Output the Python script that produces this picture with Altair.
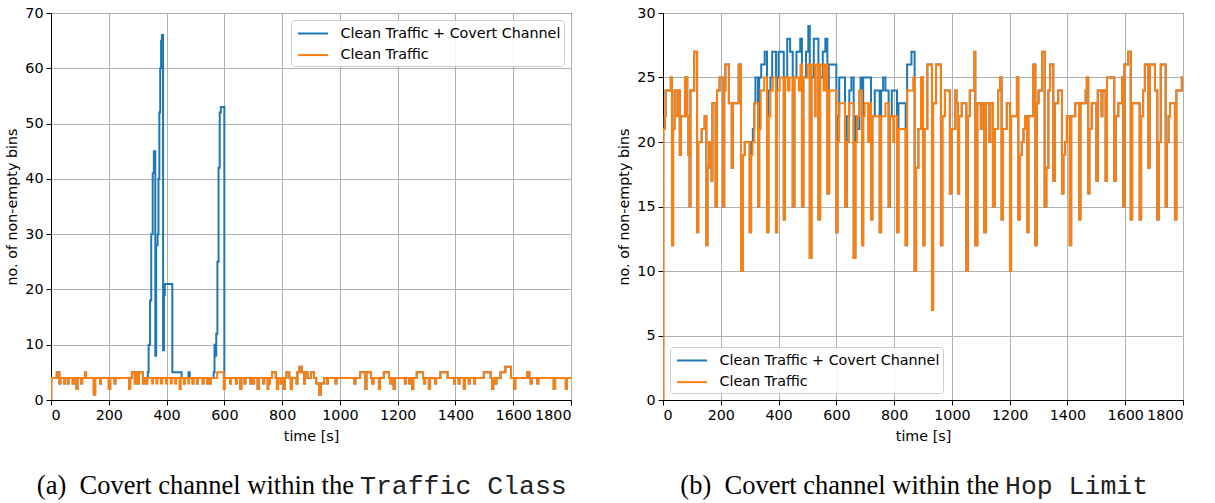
import altair as alt
import pandas as pd

SERIES = ["Clean Traffic + Covert Channel", "Clean Traffic"]
COLORS = ["#1f77b4", "#ff7f0e"]
X_TICKS = [0, 200, 400, 600, 800, 1000, 1200, 1400, 1600, 1800]
TC_Y_TICKS = [0, 10, 20, 30, 40, 50, 60, 70]
HL_Y_TICKS = [0, 5, 10, 15, 20, 25, 30]

# (a) Traffic Class: clean traffic (time [s], non-empty bins)
TC_CLEAN = [
    (0, 0), (1, 4), (20, 5), (29, 3), (33, 4), (45, 3), (48, 4), (58, 3), (61, 4), (75, 3),
    (80, 4), (88, 2), (92, 4), (105, 3), (108, 4), (118, 5), (121, 4), (148, 1), (153, 4),
    (170, 3), (173, 4), (200, 2), (205, 4), (220, 3), (223, 4), (270, 2), (274, 4), (280, 5),
    (290, 3), (293, 5), (300, 3), (304, 5), (318, 3), (322, 4), (330, 3), (333, 4), (350, 3),
    (353, 4), (365, 3), (368, 4), (380, 3), (384, 4), (398, 3), (402, 4), (415, 3), (418, 4),
    (430, 3), (433, 4), (445, 2), (449, 4), (460, 3), (463, 4), (475, 3), (478, 4), (490, 3),
    (493, 4), (505, 3), (508, 4), (525, 3), (528, 4), (540, 3), (543, 4), (550, 3), (553, 4),
    (575, 5), (598, 2), (602, 4), (620, 3), (623, 4), (640, 3), (643, 4), (655, 2), (659, 4),
    (670, 3), (673, 4), (690, 3), (693, 4), (700, 3), (703, 4), (715, 2), (719, 4), (735, 3),
    (738, 4), (750, 2), (752, 4), (755, 3), (758, 4), (765, 5), (778, 4), (782, 2), (786, 4),
    (795, 3), (798, 4), (805, 2), (809, 4), (815, 5), (825, 4), (830, 2), (834, 4), (850, 3),
    (853, 5), (860, 6), (868, 5), (876, 3), (879, 5), (888, 4), (900, 5), (910, 4), (918, 3),
    (928, 1), (934, 3), (945, 4), (955, 3), (958, 4), (985, 3), (988, 4), (1050, 3), (1054, 4),
    (1070, 5), (1088, 2), (1092, 5), (1108, 4), (1112, 3), (1116, 4), (1135, 2), (1139, 4),
    (1152, 5), (1170, 4), (1175, 3), (1179, 4), (1186, 2), (1190, 4), (1225, 3), (1228, 4),
    (1240, 3), (1243, 4), (1250, 2), (1254, 4), (1266, 5), (1288, 4), (1291, 3), (1295, 4),
    (1308, 2), (1312, 4), (1330, 3), (1333, 4), (1348, 5), (1373, 4), (1395, 3), (1398, 4),
    (1411, 3), (1414, 4), (1429, 2), (1433, 4), (1446, 3), (1449, 4), (1465, 3), (1468, 4),
    (1498, 5), (1522, 4), (1527, 2), (1531, 4), (1538, 3), (1542, 4), (1556, 5), (1573, 6),
    (1592, 4), (1603, 2), (1607, 4), (1648, 5), (1656, 4), (1660, 3), (1664, 4), (1683, 3),
    (1687, 4), (1740, 2), (1745, 4), (1782, 2), (1786, 4), (1800, 4),
]
# covert-channel bursts (replace the clean trace inside their time span)
TC_BURST_1 = [
    (335, 5), (338, 10), (343, 18), (347, 30), (352, 41), (356, 45), (361, 8), (364, 28),
    (369, 30), (372, 40), (375, 52), (378, 60), (381, 65), (384, 66), (388, 9), (391, 19),
    (394, 21), (420, 5), (452, 4),
]
TC_BURST_2 = [(473, 4), (476, 5), (480, 4)]
TC_BURST_3 = [
    (560, 4), (563, 5), (566, 10), (569, 8), (572, 12), (576, 25), (580, 42), (584, 52),
    (588, 53), (600, 4), (601, 4),
]

# (b) Hop Limit: clean traffic
HL_CLEAN = [
    (0, 0), (1, 21), (6, 22), (9, 24), (27, 25), (31, 12), (35, 21), (40, 24), (50, 22),
    (53, 24), (58, 19), (62, 22), (76, 25), (84, 22), (88, 19), (92, 15), (95, 24), (108, 27),
    (118, 13), (122, 20), (134, 21), (144, 22), (150, 12), (154, 18), (160, 20), (168, 17),
    (171, 23), (182, 15), (187, 24), (196, 25), (208, 15), (212, 24), (216, 26), (228, 23),
    (238, 18), (242, 23), (262, 26), (270, 10), (276, 19), (283, 20), (300, 13), (305, 19),
    (310, 20), (316, 23), (329, 15), (333, 21), (338, 24), (350, 25), (360, 13), (365, 22),
    (372, 24), (380, 25), (391, 13), (395, 24), (404, 25), (418, 14), (422, 25), (432, 24),
    (438, 25), (449, 15), (455, 25), (470, 24), (476, 26), (481, 15), (486, 25), (500, 26),
    (508, 11), (514, 26), (526, 22), (529, 26), (538, 14), (544, 26), (556, 24), (562, 26),
    (569, 16), (576, 24), (600, 13), (604, 20), (610, 23), (630, 15), (635, 20), (644, 23),
    (660, 11), (666, 20), (672, 22), (680, 24), (689, 12), (693, 22), (698, 23), (710, 20),
    (713, 23), (720, 14), (725, 22), (750, 13), (755, 22), (770, 23), (781, 15), (785, 22),
    (797, 20), (800, 22), (810, 13), (815, 21), (840, 12), (845, 24), (866, 25), (871, 10),
    (876, 18), (884, 21), (893, 25), (900, 12), (905, 21), (915, 26), (931, 7), (935, 23),
    (945, 26), (962, 12), (967, 22), (976, 24), (993, 16), (998, 21), (1012, 24), (1016, 23),
    (1021, 16), (1025, 22), (1034, 23), (1050, 10), (1055, 22), (1062, 24), (1078, 27),
    (1081, 12), (1088, 23), (1100, 21), (1103, 23), (1112, 13), (1118, 23), (1130, 20),
    (1133, 23), (1142, 15), (1148, 21), (1160, 24), (1167, 25), (1172, 14), (1177, 21),
    (1190, 23), (1201, 10), (1205, 22), (1225, 25), (1230, 14), (1236, 19), (1242, 20),
    (1248, 21), (1253, 22), (1260, 13), (1265, 22), (1282, 26), (1289, 12), (1294, 23),
    (1300, 24), (1312, 27), (1321, 15), (1327, 18), (1334, 24), (1340, 26), (1351, 17),
    (1356, 23), (1368, 24), (1381, 16), (1386, 19), (1392, 20), (1398, 22), (1408, 12),
    (1413, 22), (1427, 23), (1440, 14), (1445, 23), (1463, 24), (1467, 25), (1472, 16),
    (1476, 21), (1484, 23), (1500, 17), (1505, 24), (1518, 22), (1521, 24), (1532, 17),
    (1537, 25), (1562, 17), (1567, 22), (1576, 23), (1589, 25), (1593, 15), (1597, 26),
    (1610, 27), (1619, 14), (1624, 23), (1650, 14), (1655, 22), (1662, 24), (1668, 26),
    (1680, 18), (1685, 26), (1703, 24), (1711, 14), (1716, 20), (1723, 26), (1740, 15),
    (1744, 20), (1750, 22), (1755, 23), (1772, 14), (1777, 24), (1796, 25), (1800, 25),
]
HL_BURST = [
    (300, 13), (305, 20), (311, 21), (316, 23), (320, 25), (329, 15), (333, 25), (340, 26),
    (352, 27), (360, 13), (365, 24), (372, 25), (378, 27), (391, 13), (395, 25), (400, 27),
    (418, 14), (422, 25), (430, 28), (440, 27), (449, 15), (455, 25), (462, 27), (475, 28),
    (481, 15), (486, 25), (495, 27), (503, 29), (508, 11), (514, 25), (522, 28), (538, 14),
    (544, 25), (553, 27), (562, 28), (569, 16), (574, 26), (600, 13), (604, 22), (610, 25),
    (630, 15), (636, 22), (645, 24), (652, 25), (660, 11), (666, 22), (672, 21), (680, 24),
    (684, 25), (689, 12), (693, 25), (720, 14), (725, 22), (733, 24), (750, 13), (755, 24),
    (762, 25), (770, 24), (781, 15), (786, 22), (792, 24), (810, 13), (815, 23), (840, 12),
    (845, 26), (860, 27), (868, 27),
]


def merge(clean, bursts):
    pts = list(clean)
    for b in bursts:
        lo, hi = b[0][0], b[-1][0]
        pts = [p for p in pts if p[0] < lo or p[0] > hi] + list(b)
    return sorted(pts)


def frame(points, name):
    return pd.DataFrame({"t": [p[0] for p in points], "v": [p[1] for p in points], "series": name})


CAP = pd.DataFrame({"k": [0]})


def panel(clean, covert, ymax, yticks, orient, cap_serif, cap_mono, cap_x):
    x = alt.X("t:Q", title="time [s]",
              scale=alt.Scale(domain=[0, 1800], nice=False, zero=False),
              axis=alt.Axis(values=X_TICKS, format="d"))
    y = alt.Y("v:Q", title="no. of non-empty bins",
              scale=alt.Scale(domain=[0, ymax], nice=False),
              axis=alt.Axis(values=yticks, format="d"))
    color = alt.Color("series:N", scale=alt.Scale(domain=SERIES, range=COLORS),
                      legend=alt.Legend(title=None, orient=orient, offset=7,
                                        symbolType="M-0.72,0H2.61", symbolSize=324,
                                        symbolStrokeWidth=2, labelFont="DejaVu Sans",
                                        labelFontSize=14.3, labelColor="black",
                                        padding=3.5, strokeColor="#cccccc",
                                        fillColor="rgba(255,255,255,0.85)",
                                        cornerRadius=3, rowPadding=3.6, labelOffset=26,
                                        labelLimit=400))
    blue = alt.Chart(frame(covert, SERIES[0])).mark_line(
        interpolate="step-after", strokeWidth=2, clip=True).encode(x=x, y=y, color=color)
    orange = alt.Chart(frame(clean, SERIES[1])).mark_line(
        interpolate="step-after", strokeWidth=2, clip=True).encode(x=x, y=y, color=color)
    t1 = alt.Chart(CAP).mark_text(text=cap_serif, font="Liberation Serif", fontSize=26.5,
                                  align="right", baseline="alphabetic", color="black").encode(
        x=alt.value(cap_x[0]), y=alt.value(481))
    t2 = alt.Chart(CAP).mark_text(text=cap_mono, font="Liberation Mono", fontSize=26.5,
                                  align="left", baseline="alphabetic", color="#222222").encode(
        x=alt.value(cap_x[1]), y=alt.value(481))
    return alt.layer(blue, orange, t1, t2).properties(width=520, height=387)


left = panel(TC_CLEAN, merge(TC_CLEAN, [TC_BURST_1, TC_BURST_2, TC_BURST_3]), 70, TC_Y_TICKS,
             "top-right", "(a)\u2002Covert channel within the", "Traffic Class", (303, 309))
right = panel(HL_CLEAN, merge(HL_CLEAN, [HL_BURST]), 30, HL_Y_TICKS,
              "bottom-left", "(b)\u2002Covert channel within the", "Hop Limit", (336, 342))

chart = alt.hconcat(left, right, spacing=45).resolve_legend(color="independent").properties(
    padding={"left": 5, "top": 5, "right": 5, "bottom": 4}, background="white"
).configure_view(stroke="black", strokeWidth=1).configure_axis(
    labelFont="DejaVu Sans", labelFontSize=14.3, labelColor="black",
    titleFont="DejaVu Sans", titleFontSize=14.3, titleFontWeight="normal", titleColor="black",
    tickColor="black", tickSize=5, tickWidth=1, domainColor="black", domainWidth=1,
    gridColor="#b0b0b0", gridWidth=1, labelPadding=3,
).configure_axisX(titlePadding=7).configure_axisY(titlePadding=5)

chart.save("out.html", embed_options={"renderer": "svg", "actions": False})
